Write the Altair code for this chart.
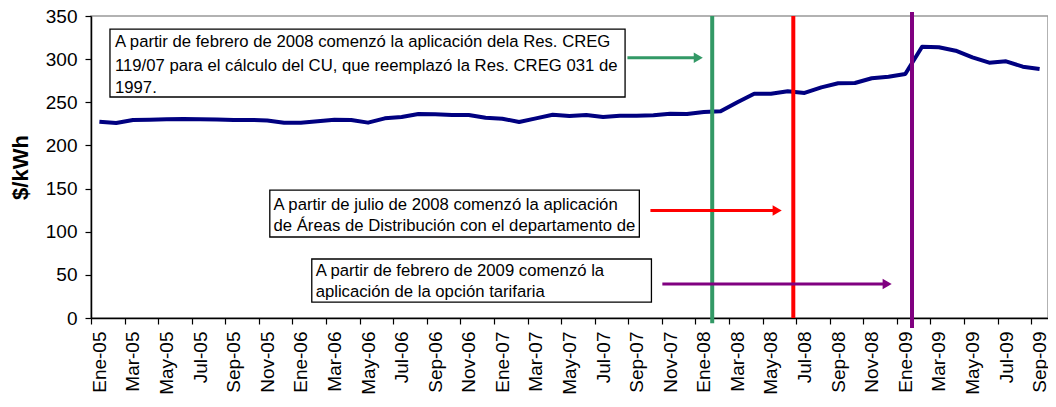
import altair as alt
import pandas as pd

# ---- data -------------------------------------------------------------
month_names = ["Ene", "Feb", "Mar", "Abr", "May", "Jun",
               "Jul", "Ago", "Sep", "Oct", "Nov", "Dic"]
years = ["05", "06", "07", "08", "09"]
months = [f"{m}-{y}" for y in years for m in month_names][:57]  # Ene-05 .. Sep-09

cu_values = [
    227.5, 226.0, 229.5, 229.8, 230.2, 230.6, 230.2, 230.0, 229.5, 229.5, 229.0, 226.4,  # 2005
    226.4, 228.0, 229.8, 229.5, 226.4, 231.4, 233.0, 236.4, 236.0, 235.3, 235.3, 232.1,  # 2006
    231.0, 227.1, 231.4, 235.6, 234.1, 235.3, 232.9, 234.5, 234.5, 234.9, 236.8, 236.4,  # 2007
    238.7, 239.5, 250.0, 259.9, 259.9, 262.7, 260.8, 267.3, 272.0, 272.4, 277.8, 279.7,  # 2008
    282.8, 314.4, 313.7, 309.8, 302.1, 295.9, 297.5, 291.3, 288.6,                        # 2009
]

# event lines (position in months from Ene-05, vertical extent in $/kWh)
event_names = ["Res. CREG 119/07", "Áreas de Distribución", "Opción tarifaria"]
event_pos = [37.0, 41.83, 48.9]
event_y0 = [-6, 0, -11.5]
event_y1 = [350, 350, 354.5]
event_colors = ["#339966", "#FF0000", "#800080"]

# annotation boxes
box_x0 = [1.13, 10.65, 13.15]
box_x1 = [31.81, 32.66, 33.38]
box_y0 = [256.1, 93.9, 18.5]
box_y1 = [334.9, 148.3, 68.4]

# annotation text lines
text_lines = [
    "A partir de febrero de 2008 comenzó la aplicación dela Res. CREG",
    "119/07 para el cálculo del CU, que reemplazó la Res. CREG 031 de",
    "1997.",
    "A partir de julio de 2008 comenzó la aplicación",
    "de Áreas de Distribución con el departamento de",
    "A partir de febrero de 2009 comenzó la",
    "aplicación de la opción tarifaria",
]
text_x = [1.43, 1.43, 1.43, 10.87, 10.87, 13.38, 13.38]
text_y = [314.2, 286.8, 260.7, 124.9, 100.6, 48.7, 24.3]

# arrows
arrow_x0 = [31.95, 33.32, 34.03]
arrow_x1 = [36.17, 40.87, 47.42]
arrow_y = [301.7, 124.5, 39.4]

# ---- tables -----------------------------------------------------------
df_line = pd.DataFrame({"pos": [i + 0.5 for i in range(len(cu_values))],
                        "mes": months, "cu": cu_values})
df_events = pd.DataFrame({"name": event_names, "pos": event_pos,
                          "y0": event_y0, "y1": event_y1, "color": event_colors})
df_boxes = pd.DataFrame({"x0": box_x0, "x1": box_x1, "y0": box_y0, "y1": box_y1})
df_text = pd.DataFrame({"t": text_lines, "x": text_x, "y": text_y})
df_arrows = pd.DataFrame({"x0": arrow_x0, "x1": arrow_x1, "y": arrow_y,
                          "color": event_colors})

FONT = "Liberation Sans"
n = len(months)
tick_vals = list(range(0, n, 2))
label_arr = "[" + ",".join(f"'{months[v]}'" for v in tick_vals) + "]"

x_scale = alt.Scale(domain=[0, n], nice=False, zero=False)
y_scale = alt.Scale(domain=[0, 350], nice=False)

x_axis = alt.Axis(values=tick_vals, labelExpr=f"{label_arr}[round(datum.value/2)]",
                  labelAngle=-90, labelFontSize=19, labelOffset=8.4, labelPadding=7,
                  labelAlign="right", labelBaseline="middle",
                  tickSize=6, tickColor="black", domainColor="black", domainWidth=1.5,
                  tickWidth=1.2, grid=False, title=None, labelOverlap=False,
                  labelFlush=False, labelBound=False, labelColor="black",
                  labelSeparation=0)
y_axis = alt.Axis(values=list(range(0, 351, 50)), labelFontSize=19, labelPadding=8,
                  tickSize=6, tickColor="black", domainColor="black", domainWidth=1.5,
                  tickWidth=1.2, grid=False, title="$/kWh", titleFontSize=22,
                  titleFontWeight="bold", titleX=-71, titleY=151, titleAngle=270,
                  titleBaseline="middle", titleAlign="center", labelColor="black",
                  titleColor="black", labelOverlap=False)


def X(field):
    return alt.X(field, type="quantitative", scale=x_scale, axis=x_axis)


def Y(field):
    return alt.Y(field, type="quantitative", scale=y_scale, axis=y_axis)


line = alt.Chart(df_line).mark_line(color="#000080", strokeWidth=4,
                                    strokeJoin="round").encode(
    x=X("pos"), y=Y("cu"),
)

events = alt.Chart(df_events).mark_rule(strokeWidth=4).encode(
    x=X("pos"), y=Y("y0"), y2="y1:Q",
    color=alt.Color("color:N", scale=None),
)

boxes = alt.Chart(df_boxes).mark_rect(fill="white", stroke="black",
                                      strokeWidth=1.3).encode(
    x=X("x0"), x2="x1:Q", y=Y("y0"), y2="y1:Q",
)

texts = alt.Chart(df_text).mark_text(align="left", baseline="alphabetic",
                                     font=FONT, fontSize=16.7, color="black").encode(
    x=X("x"), y=Y("y"), text="t:N",
)

arrow_shafts = alt.Chart(df_arrows).mark_rule(strokeWidth=3).encode(
    x=X("x0"), x2="x1:Q", y=Y("y"),
    color=alt.Color("color:N", scale=None),
)
arrow_heads = alt.Chart(df_arrows).mark_point(shape="triangle-right", filled=True,
                                              size=110, opacity=1).encode(
    x=X("x1"), y=Y("y"),
    color=alt.Color("color:N", scale=None),
)

chart = alt.layer(line, events, boxes, texts, arrow_shafts, arrow_heads).properties(
    width=957, height=302,
    autosize=alt.AutoSizeParams(type="none"),
    padding={"left": 83, "top": 8, "right": 0, "bottom": 81},
).configure(font=FONT).configure_view(
    stroke="#999999", strokeWidth=1.5
).configure_axis(labelOverlap=False)

chart.save("out.html", embed_options={"renderer": "svg", "actions": False})
